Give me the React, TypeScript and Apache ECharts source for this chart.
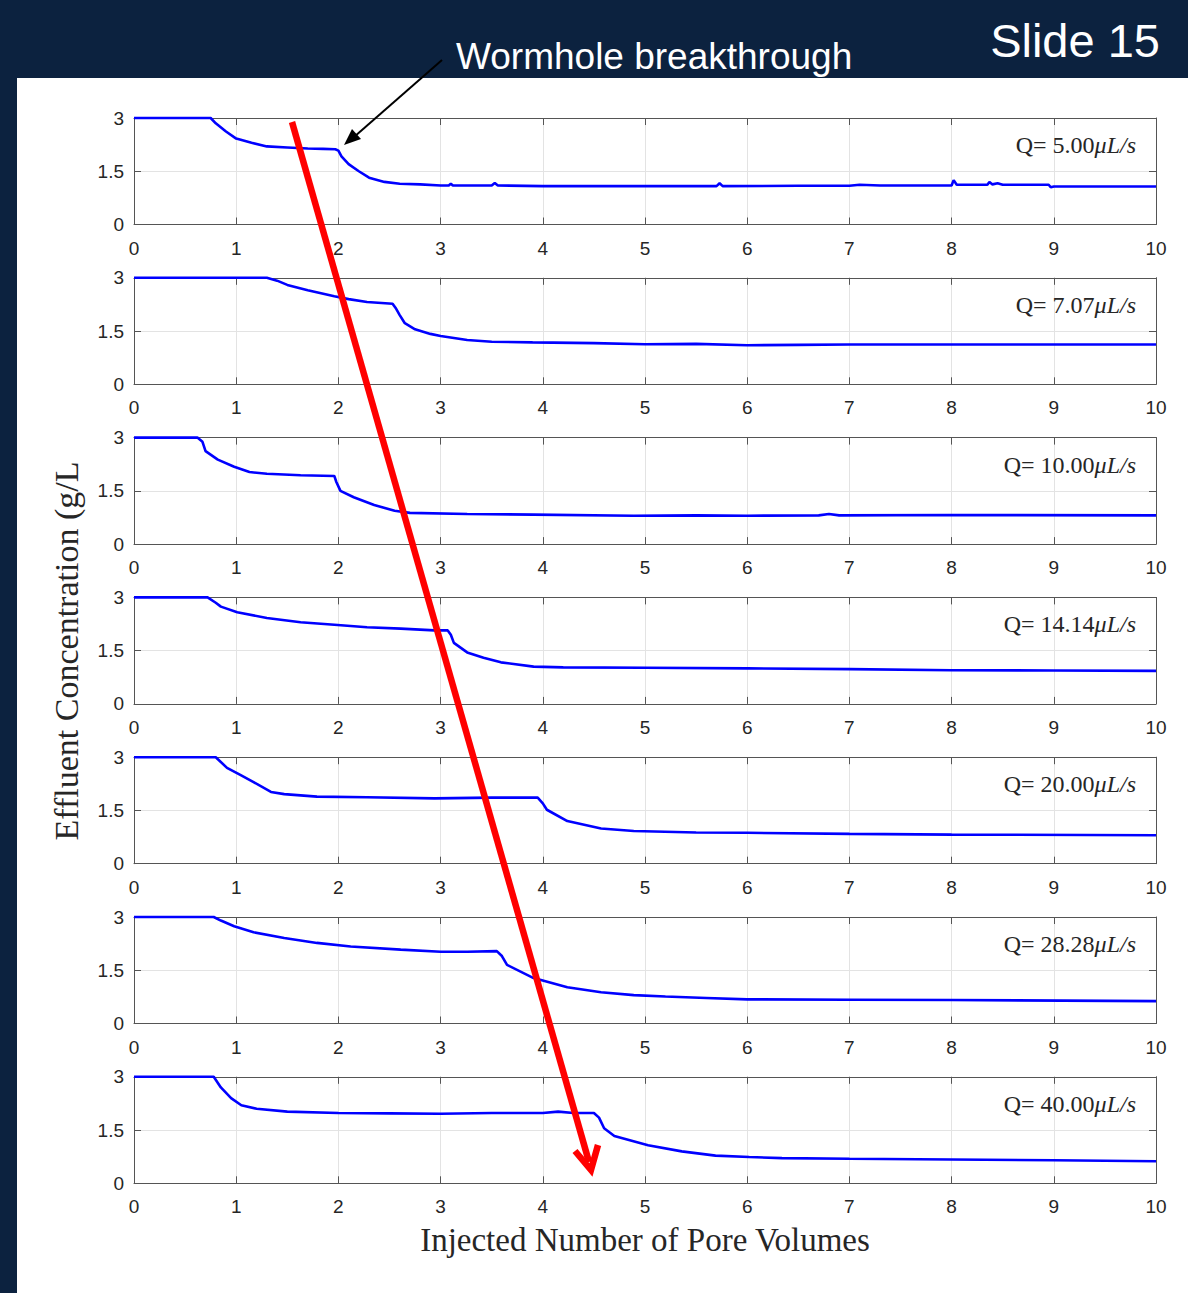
import React, { useEffect, useRef } from "react";
import * as echarts from "echarts";

// ---- data ----
const X_TICKS = [0, 1, 2, 3, 4, 5, 6, 7, 8, 9, 10];
const Y_TICKS = [0, 1.5, 3];
const Q_LABELS = ["5.00", "7.07", "10.00", "14.14", "20.00", "28.28", "40.00"];

const q500: number[][] = [[0,3],[0.75,3],[0.8,2.85],[0.9,2.62],[1.0,2.42],[1.15,2.3],[1.3,2.2],[1.5,2.17],[1.7,2.14],[1.85,2.13],[1.97,2.12],[2.0,2.08],[2.03,1.92],[2.1,1.7],[2.2,1.5],[2.3,1.32],[2.45,1.2],[2.6,1.15],[2.8,1.13],[3.0,1.1],[3.08,1.1],[3.1,1.15],[3.12,1.1],[3.5,1.1],[3.53,1.17],[3.56,1.1],[4,1.08],[5,1.08],[5.7,1.08],[5.73,1.16],[5.76,1.08],[6.5,1.09],[7.0,1.09],[7.1,1.12],[7.3,1.1],[8.0,1.1],[8.02,1.25],[8.05,1.12],[8.35,1.12],[8.37,1.2],[8.4,1.13],[8.45,1.16],[8.5,1.12],[8.95,1.12],[8.97,1.05],[9.0,1.07],[10,1.07]];
const q707: number[][] = [[0,3],[1.3,3],[1.4,2.92],[1.5,2.8],[1.7,2.65],[1.96,2.48],[2.1,2.4],[2.28,2.32],[2.53,2.27],[2.56,2.15],[2.6,1.95],[2.65,1.72],[2.75,1.55],[2.9,1.42],[3.0,1.36],[3.26,1.25],[3.5,1.2],[3.9,1.18],[4.5,1.16],[5,1.13],[5.5,1.14],[6,1.1],[6.5,1.11],[7,1.12],[10,1.12]];
const q1000: number[][] = [[0,3],[0.62,3],[0.67,2.88],[0.7,2.62],[0.82,2.38],[0.98,2.18],[1.13,2.03],[1.3,1.98],[1.63,1.94],[1.96,1.92],[1.98,1.75],[2.02,1.5],[2.15,1.32],[2.35,1.1],[2.55,0.94],[2.7,0.88],[3.26,0.85],[3.91,0.83],[4.89,0.8],[5.5,0.81],[6,0.8],[6.7,0.81],[6.8,0.85],[6.9,0.81],[8,0.82],[10,0.81]];
const q1414: number[][] = [[0,3],[0.72,3],[0.8,2.85],[0.85,2.74],[1.01,2.58],[1.3,2.42],[1.63,2.3],[1.96,2.23],[2.28,2.16],[2.61,2.12],[2.94,2.07],[3.07,2.07],[3.1,1.95],[3.13,1.72],[3.26,1.45],[3.42,1.3],[3.59,1.17],[3.91,1.05],[4.2,1.03],[5,1.02],[6,1.0],[7,0.98],[8,0.95],[9,0.94],[10,0.93]];
const q2000: number[][] = [[0,3],[0.8,3],[0.91,2.7],[1.04,2.5],[1.17,2.3],[1.34,2.02],[1.47,1.96],[1.79,1.89],[2.28,1.87],[2.94,1.84],[3.5,1.86],[3.95,1.86],[4.0,1.7],[4.04,1.52],[4.24,1.2],[4.57,0.99],[4.89,0.92],[5.5,0.88],[6,0.87],[7,0.84],[8,0.82],[10,0.8]];
const q2828: number[][] = [[0,3],[0.78,3],[0.85,2.9],[0.98,2.74],[1.17,2.57],[1.47,2.41],[1.79,2.27],[2.12,2.17],[2.61,2.08],[3.0,2.02],[3.26,2.02],[3.55,2.04],[3.6,1.9],[3.65,1.65],[3.91,1.28],[4.24,1.02],[4.57,0.88],[4.89,0.8],[5.2,0.76],[5.6,0.72],[6,0.68],[7,0.67],[8,0.66],[10,0.63]];
const q4000: number[][] = [[0,3],[0.78,3],[0.85,2.7],[0.95,2.4],[1.05,2.2],[1.2,2.1],[1.5,2.02],[2,1.98],[2.5,1.97],[3,1.96],[3.5,1.98],[4,1.98],[4.15,2.02],[4.3,1.98],[4.5,1.98],[4.55,1.85],[4.6,1.55],[4.7,1.33],[5.03,1.07],[5.36,0.9],[5.69,0.78],[6.02,0.74],[6.34,0.71],[7,0.69],[8,0.67],[9,0.65],[10,0.62]];
const SERIES = [q500, q707, q1000, q1414, q2000, q2828, q4000];

const NAVY = "#0c223f";
const SANS = "'Liberation Sans', Arial, sans-serif";
const SERIF = "'Liberation Serif', 'Times New Roman', serif";

export default function App() {
  const ref = useRef<HTMLDivElement>(null);
  useEffect(() => {
    if (!ref.current) return;
    const chart = echarts.init(ref.current, undefined, { renderer: "svg" });
    const n = SERIES.length;
    const left = 134, width = 1022, h = 106.5;
    const tops = SERIES.map((_, i) => 118 + i * 159.8);
    const grids = tops.map((t) => ({ left, top: t, width, height: h }));
    const axisCol = "#555555";
    const gridCol = "#e3e3e3";
    const xAxes: any[] = [];
    const yAxes: any[] = [];
    for (let i = 0; i < n; i++) {
      xAxes.push({
        gridIndex: i, type: "value", min: X_TICKS[0], max: X_TICKS[X_TICKS.length - 1], interval: 1,
        position: "bottom",
        axisLine: { show: true, onZero: false, lineStyle: { color: axisCol, width: 1 } },
        axisTick: { show: true, inside: true, length: 7, lineStyle: { color: axisCol } },
        axisLabel: { show: true, fontSize: 19, color: "#262626", fontFamily: SANS, margin: 14 },
        splitLine: { show: true, lineStyle: { color: gridCol, width: 1 } },
      });
      yAxes.push({
        gridIndex: i, type: "value", min: Y_TICKS[0], max: Y_TICKS[Y_TICKS.length - 1], interval: 1.5,
        position: "left",
        axisLine: { show: true, onZero: false, lineStyle: { color: axisCol, width: 1 } },
        axisTick: { show: true, inside: true, length: 7, lineStyle: { color: axisCol } },
        axisLabel: { show: true, fontSize: 19, color: "#262626", fontFamily: SANS, margin: 10,
          formatter: (v: number) => (Y_TICKS.includes(v) ? String(v) : "") },
        splitLine: { show: true, lineStyle: { color: gridCol, width: 1 } },
      });
    }
    for (let i = 0; i < n; i++) {
      xAxes.push({
        gridIndex: i, type: "value", min: 0, max: 10, interval: 1, position: "top",
        axisLine: { show: true, onZero: false, lineStyle: { color: axisCol, width: 1 } },
        axisTick: { show: true, inside: true, length: 7, lineStyle: { color: axisCol } },
        axisLabel: { show: false }, splitLine: { show: false },
      });
      yAxes.push({
        gridIndex: i, type: "value", min: 0, max: 3, interval: 1.5, position: "right",
        axisLine: { show: true, onZero: false, lineStyle: { color: axisCol, width: 1 } },
        axisTick: { show: true, inside: true, length: 7, lineStyle: { color: axisCol } },
        axisLabel: { show: false }, splitLine: { show: false },
      });
    }
    const series = SERIES.map((d, i) => ({
      type: "line", xAxisIndex: i, yAxisIndex: i, data: d, showSymbol: false, symbol: "none",
      clip: false, lineStyle: { color: "#0000ff", width: 2.6 }, z: 3,
    }));

    const qTexts = Q_LABELS.map((q, i) => ({
      type: "text", x: 1136, y: tops[i] + 27, z: 10,
      style: {
        text: `{a|Q= ${q}}{b|μL/s}`,
        align: "right", textAlign: "right", verticalAlign: "middle", textVerticalAlign: "middle",
        fill: "#262626",
        rich: {
          a: { fontFamily: SERIF, fontSize: 24, fill: "#262626", color: "#262626" },
          b: { fontFamily: SERIF, fontSize: 24, fontStyle: "italic", fill: "#262626", color: "#262626" },
        },
      },
    }));

    const option: any = {
      animation: false,
      backgroundColor: "#ffffff",
      grid: grids,
      xAxis: xAxes,
      yAxis: yAxes,
      series,
      graphic: [
        { type: "rect", shape: { x: 0, y: 0, width: 1188, height: 78 }, style: { fill: NAVY }, z: 1 },
        { type: "rect", shape: { x: 0, y: 0, width: 17, height: 1293 }, style: { fill: NAVY }, z: 1 },
        { type: "text", x: 1160, y: 40, z: 10, style: { text: "Slide 15", fill: "#ffffff", font: `47px ${SANS}`, align: "right", textAlign: "right", verticalAlign: "middle", textVerticalAlign: "middle" } },
        { type: "text", x: 456, y: 56, z: 10, style: { text: "Wormhole breakthrough", fill: "#ffffff", font: `37px ${SANS}`, align: "left", textAlign: "left", verticalAlign: "middle", textVerticalAlign: "middle" } },
        { type: "text", x: 66, y: 651, rotation: Math.PI / 2, z: 10, style: { text: "Effluent Concentration (g/L", fill: "#262626", font: `34px ${SERIF}`, align: "center", textAlign: "center", verticalAlign: "middle", textVerticalAlign: "middle" } },
        { type: "text", x: 645, y: 1240, z: 10, style: { text: "Injected Number of Pore Volumes", fill: "#262626", font: `33px ${SERIF}`, align: "center", textAlign: "center", verticalAlign: "middle", textVerticalAlign: "middle" } },
        ...qTexts,
        // black annotation arrow
        { type: "line", z: 20, shape: { x1: 442, y1: 60, x2: 354, y2: 137 }, style: { stroke: "#000000", lineWidth: 2 } },
        { type: "polygon", z: 20, shape: { points: [[344, 145], [361, 139], [352, 129]] }, style: { fill: "#000000" } },
        // red trend arrow
        { type: "line", z: 20, shape: { x1: 292, y1: 122, x2: 589, y2: 1162 }, style: { stroke: "#ff0000", lineWidth: 6.5 } },
        { type: "polyline", z: 20, shape: { points: [[575, 1151], [591, 1170], [598, 1145]] }, style: { stroke: "#ff0000", lineWidth: 6.5, lineJoin: "miter", fill: null } },
      ],
    };
    chart.setOption(option);
    return () => chart.dispose();
  }, []);
  return (
    <div
      ref={ref}
      style={{ position: "absolute", left: 0, top: 0, width: 1188, height: 1293 }}
    />
  );
}
